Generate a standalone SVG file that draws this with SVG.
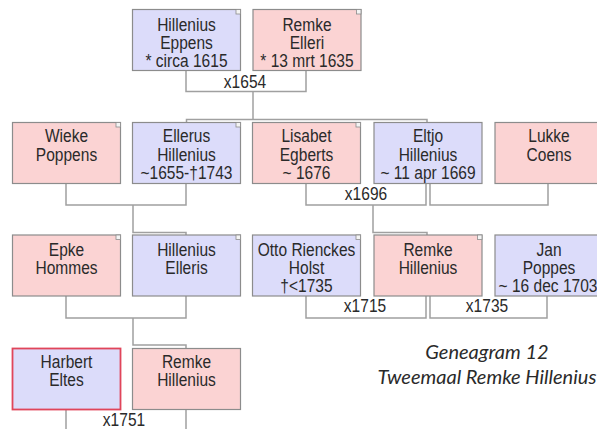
<svg xmlns="http://www.w3.org/2000/svg" width="597" height="429" viewBox="0 0 597 429">
<style>
.m{fill:#dcdcfa;stroke:#8c8c8c;stroke-width:1.2}
.f{fill:#fbd3d3;stroke:#8c8c8c;stroke-width:1.2}
.sel{stroke:#e0455a;stroke-width:1.8}
.t{font-family:"Liberation Sans",Arial,sans-serif;font-size:18.5px;fill:#2a2a2a;text-anchor:middle}
.ic{fill:#f4f4f4;stroke:#8c8c8c;stroke-width:0.8}
.c{fill:none;stroke:#a0a0a0;stroke-width:1.5}
.title{font-family:Lato,"Open Sans",sans-serif;font-style:italic;font-size:20px;fill:#2a2a2a;text-anchor:middle}
</style>
<rect width="597" height="429" fill="#ffffff"/>
<g id="connectors">
<path class="c" d="M186 70.5V91.5H306V70.5"/>
<path class="c" d="M253 91.5V119.5"/>
<path class="c" d="M186.5 122.5V119.5H427V122.5"/>
<path class="c" d="M66 183.5V205H186V183.5"/>
<path class="c" d="M133 205V232.5H186V235"/>
<path class="c" d="M306 183.5V205H426V183.5"/>
<path class="c" d="M373 205V232.5H427V235"/>
<path class="c" d="M430 183.5V205H548V183.5"/>
<path class="c" d="M66 296V318H186V296"/>
<path class="c" d="M133 318V345H186V348.5"/>
<path class="c" d="M306 296V318H426V296"/>
<path class="c" d="M430 296V318H547V296"/>
<path class="c" d="M66 409.5V429M186 409.5V429"/>
<text class="t" transform="matrix(0.84 0 0 1 245 88)">x1654</text>
<text class="t" transform="matrix(0.84 0 0 1 366 200)">x1696</text>
<text class="t" transform="matrix(0.84 0 0 1 365 312)">x1715</text>
<text class="t" transform="matrix(0.84 0 0 1 487 312)">x1735</text>
<text class="t" transform="matrix(0.84 0 0 1 124 425.5)">x1751</text>
</g>
<g id="hillenius-eppens">
<rect class="m" x="132.5" y="9.5" width="108" height="61"/>
<rect class="ic" x="236" y="9.5" width="4.5" height="4.5"/>
<text class="t" transform="matrix(0.84 0 0 1 186.5 30.5)">Hillenius</text>
<text class="t" transform="matrix(0.84 0 0 1 186.5 48.5)">Eppens</text>
<text class="t" transform="matrix(0.84 0 0 1 186.5 66.5)">* circa 1615</text>
</g>
<g id="remke-elleri">
<rect class="f" x="253" y="9.5" width="108" height="61"/>
<rect class="ic" x="356.5" y="9.5" width="4.5" height="4.5"/>
<text class="t" transform="matrix(0.84 0 0 1 307 30.5)">Remke</text>
<text class="t" transform="matrix(0.84 0 0 1 307 48.5)">Elleri</text>
<text class="t" transform="matrix(0.84 0 0 1 307 66.5)">* 13 mrt 1635</text>
</g>
<g id="wieke-poppens">
<rect class="f" x="12.5" y="122.5" width="108" height="61"/>
<rect class="ic" x="116" y="122.5" width="4.5" height="4.5"/>
<text class="t" transform="matrix(0.84 0 0 1 66.5 142)">Wieke</text>
<text class="t" transform="matrix(0.84 0 0 1 66.5 160.5)">Poppens</text>
</g>
<g id="ellerus-hillenius">
<rect class="m" x="132.5" y="122.5" width="108" height="61"/>
<rect class="ic" x="236" y="122.5" width="4.5" height="4.5"/>
<text class="t" transform="matrix(0.84 0 0 1 186.5 142)">Ellerus</text>
<text class="t" transform="matrix(0.84 0 0 1 186.5 160.5)">Hillenius</text>
<text class="t" transform="matrix(0.84 0 0 1 186.5 179)">~1655-†1743</text>
</g>
<g id="lisabet-egberts">
<rect class="f" x="252.5" y="122.5" width="108" height="61"/>
<rect class="ic" x="356" y="122.5" width="4.5" height="4.5"/>
<text class="t" transform="matrix(0.84 0 0 1 306.5 142)">Lisabet</text>
<text class="t" transform="matrix(0.84 0 0 1 306.5 160.5)">Egberts</text>
<text class="t" transform="matrix(0.84 0 0 1 306.5 179)">~ 1676</text>
</g>
<g id="eltjo-hillenius">
<rect class="m" x="374" y="122.5" width="108" height="61"/>
<text class="t" transform="matrix(0.84 0 0 1 428 142)">Eltjo</text>
<text class="t" transform="matrix(0.84 0 0 1 428 160.5)">Hillenius</text>
<text class="t" transform="matrix(0.84 0 0 1 428 179)">~ 11 apr 1669</text>
</g>
<g id="lukke-coens">
<rect class="f" x="495" y="122.5" width="108" height="61"/>
<text class="t" transform="matrix(0.84 0 0 1 549 142)">Lukke</text>
<text class="t" transform="matrix(0.84 0 0 1 549 160.5)">Coens</text>
</g>
<g id="epke-hommes">
<rect class="f" x="12.5" y="235" width="108" height="61"/>
<rect class="ic" x="116" y="235" width="4.5" height="4.5"/>
<text class="t" transform="matrix(0.84 0 0 1 66.5 255.5)">Epke</text>
<text class="t" transform="matrix(0.84 0 0 1 66.5 274)">Hommes</text>
</g>
<g id="hillenius-elleris">
<rect class="m" x="132.5" y="235" width="108" height="61"/>
<rect class="ic" x="236" y="235" width="4.5" height="4.5"/>
<text class="t" transform="matrix(0.84 0 0 1 186.5 255.5)">Hillenius</text>
<text class="t" transform="matrix(0.84 0 0 1 186.5 274)">Elleris</text>
</g>
<g id="otto-rienckes-holst">
<rect class="m" x="252.5" y="235" width="108" height="61"/>
<rect class="ic" x="356" y="235" width="4.5" height="4.5"/>
<text class="t" transform="matrix(0.84 0 0 1 306.5 255.5)">Otto Rienckes</text>
<text class="t" transform="matrix(0.84 0 0 1 306.5 274)">Holst</text>
<text class="t" transform="matrix(0.84 0 0 1 306.5 292)">†&lt;1735</text>
</g>
<g id="remke-hillenius-1">
<rect class="f" x="374" y="235" width="108" height="61"/>
<rect class="ic" x="477.5" y="235" width="4.5" height="4.5"/>
<text class="t" transform="matrix(0.84 0 0 1 428 255.5)">Remke</text>
<text class="t" transform="matrix(0.84 0 0 1 428 274)">Hillenius</text>
</g>
<g id="jan-poppes">
<rect class="m" x="495" y="235" width="108" height="61"/>
<text class="t" transform="matrix(0.84 0 0 1 549 255.5)">Jan</text>
<text class="t" transform="matrix(0.84 0 0 1 549 274)">Poppes</text>
<text class="t" transform="matrix(0.84 0 0 1 548 292)">~ 16 dec 1703</text>
</g>
<g id="harbert-eltes">
<rect class="m sel" x="12.5" y="348.5" width="108" height="61"/>
<text class="t" transform="matrix(0.84 0 0 1 66.5 367.5)">Harbert</text>
<text class="t" transform="matrix(0.84 0 0 1 66.5 386)">Eltes</text>
</g>
<g id="remke-hillenius-2">
<rect class="f" x="132.5" y="348.5" width="108" height="61"/>
<text class="t" transform="matrix(0.84 0 0 1 186.5 367.5)">Remke</text>
<text class="t" transform="matrix(0.84 0 0 1 186.5 386)">Hillenius</text>
</g>
<g id="caption">
<text class="title" x="487" y="359">Geneagram 12</text>
<text class="title" x="487" y="384">Tweemaal Remke Hillenius</text>
</g>
</svg>
